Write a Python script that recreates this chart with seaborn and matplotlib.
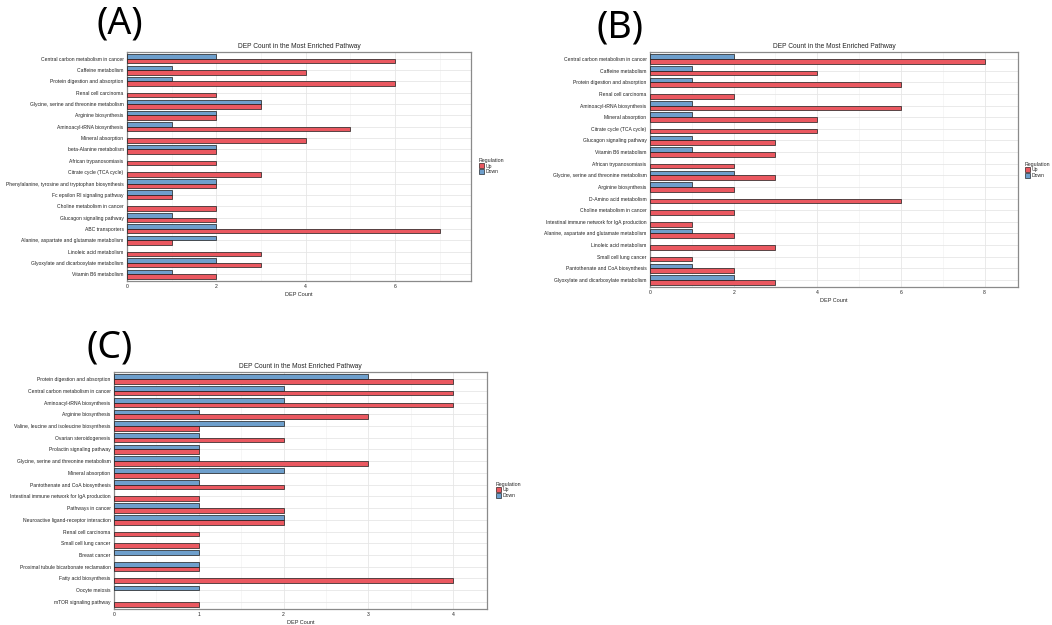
import matplotlib
matplotlib.use("Agg")
import matplotlib.pyplot as plt
import seaborn as sns
import pandas as pd
import numpy as np
from matplotlib.patches import Patch

sns.set_style("white")
plt.rcParams['font.family'] = ['Liberation Sans', 'DejaVu Sans']

# ---- data (None = no bar) ----
pathways_a = [
    "Central carbon metabolism in cancer", "Caffeine metabolism",
    "Protein digestion and absorption", "Renal cell carcinoma",
    "Glycine, serine and threonine metabolism", "Arginine biosynthesis",
    "Aminoacyl-tRNA biosynthesis", "Mineral absorption",
    "beta-Alanine metabolism", "African trypanosomiasis",
    "Citrate cycle (TCA cycle)", "Phenylalanine, tyrosine and tryptophan biosynthesis",
    "Fc epsilon RI signaling pathway", "Choline metabolism in cancer",
    "Glucagon signaling pathway", "ABC transporters",
    "Alanine, aspartate and glutamate metabolism", "Linoleic acid metabolism",
    "Glyoxylate and dicarboxylate metabolism", "Vitamin B6 metabolism",
]
up_a = [6, 4, 6, 2, 3, 2, 5, 4, 2, 2, 3, 2, 1, 2, 2, 7, 1, 3, 3, 2]
down_a = [2, 1, 1, None, 3, 2, 1, None, 2, None, None, 2, 1, None, 1, 2, 2, None, 2, 1]

pathways_b = [
    "Central carbon metabolism in cancer", "Caffeine metabolism",
    "Protein digestion and absorption", "Renal cell carcinoma",
    "Aminoacyl-tRNA biosynthesis", "Mineral absorption",
    "Citrate cycle (TCA cycle)", "Glucagon signaling pathway",
    "Vitamin B6 metabolism", "African trypanosomiasis",
    "Glycine, serine and threonine metabolism", "Arginine biosynthesis",
    "D-Amino acid metabolism", "Choline metabolism in cancer",
    "Intestinal immune network for IgA production",
    "Alanine, aspartate and glutamate metabolism", "Linoleic acid metabolism",
    "Small cell lung cancer", "Pantothenate and CoA biosynthesis",
    "Glyoxylate and dicarboxylate metabolism",
]
up_b = [8, 4, 6, 2, 6, 4, 4, 3, 3, 2, 3, 2, 6, 2, 1, 2, 3, 1, 2, 3]
down_b = [2, 1, 1, None, 1, 1, None, 1, 1, None, 2, 1, None, None, None, 1, None, None, 1, 2]

pathways_c = [
    "Protein digestion and absorption", "Central carbon metabolism in cancer",
    "Aminoacyl-tRNA biosynthesis", "Arginine biosynthesis",
    "Valine, leucine and isoleucine biosynthesis", "Ovarian steroidogenesis",
    "Prolactin signaling pathway", "Glycine, serine and threonine metabolism",
    "Mineral absorption", "Pantothenate and CoA biosynthesis",
    "Intestinal immune network for IgA production", "Pathways in cancer",
    "Neuroactive ligand-receptor interaction", "Renal cell carcinoma",
    "Small cell lung cancer", "Breast cancer",
    "Proximal tubule bicarbonate reclamation", "Fatty acid biosynthesis",
    "Oocyte meiosis", "mTOR signaling pathway",
]
up_c = [4, 4, 4, 3, 1, 2, 1, 3, 1, 2, 1, 2, 2, 1, 1, None, 1, 4, None, 1]
down_c = [3, 2, 2, 1, 2, 1, 1, 1, 2, 1, None, 1, 2, None, None, 1, 1, None, 1, None]

RED = "#EA5860"
BLUE = "#6E9FCC"
W, H = 1052, 625


def make_df(pathways, up, down):
    rows = []
    for p, u, d in zip(pathways, up, down):
        if u is not None:
            rows.append((p, "Up", u))
        if d is not None:
            rows.append((p, "Down", d))
    return pd.DataFrame(rows, columns=["Pathway", "Regulation", "Count"])


def add_ax(fig, x0, y0, x1, y1):
    return fig.add_axes([x0 / W, 1 - y1 / H, (x1 - x0) / W, (y1 - y0) / H])


def draw_panel(fig, box, pathways, up, down, step, legend_xy):
    ax = add_ax(fig, *box)
    df = make_df(pathways, up, down)
    sns.barplot(data=df, x="Count", y="Pathway", hue="Regulation",
                order=pathways, hue_order=["Down", "Up"],
                palette={"Up": RED, "Down": BLUE}, saturation=1,
                width=0.8, errorbar=None, edgecolor="#1a1a1a", linewidth=0.5,
                orient="h", legend=False, ax=ax, zorder=3)
    xmax = max(v for v in up + down if v is not None) * 1.1
    ax.set_xlim(0, xmax)
    ax.set_ylim(len(pathways) - 0.4, -0.6)
    ax.set_xticks(np.arange(0, xmax, step))
    ax.set_xticks(np.arange(step / 2, xmax, step), minor=True)
    ax.grid(True, which="major", color="#E6E6E6", linewidth=0.6, zorder=0)
    ax.grid(True, which="minor", axis="x", color="#EFEFEF", linewidth=0.4, zorder=0)
    ax.set_axisbelow(True)
    for s in ax.spines.values():
        s.set_color("#8A8A8A")
        s.set_linewidth(0.9)
    ax.tick_params(axis="both", which="major", length=1.5, width=0.4,
                   color="#444444", labelsize=3.6, pad=1, labelcolor="#222222")
    ax.tick_params(axis="x", which="minor", length=0)
    ax.set_ylabel("")
    ax.set_xlabel("DEP Count", fontsize=4.0, labelpad=1.5)
    ax.set_title("DEP Count in the Most Enriched Pathway", fontsize=4.8, pad=3)
    handles = [Patch(facecolor=RED, edgecolor="black", linewidth=0.4, label="Up"),
               Patch(facecolor=BLUE, edgecolor="black", linewidth=0.4, label="Down")]
    fig.legend(handles=handles, title="Regulation", loc="center left",
               bbox_to_anchor=(legend_xy[0] / W, 1 - legend_xy[1] / H),
               frameon=False, fontsize=3.6, title_fontsize=3.8,
               handlelength=1.0, handleheight=1.2, handletextpad=0.4,
               labelspacing=0.0, borderpad=0, alignment="left")
    return ax


fig = plt.figure(figsize=(W / 100, H / 100), dpi=100)

draw_panel(fig, (127, 52, 471, 281), pathways_a, up_a, down_a, 2, (476, 166))
draw_panel(fig, (650, 52, 1018, 287), pathways_b, up_b, down_b, 2, (1022, 170))
draw_panel(fig, (114, 372, 487, 609), pathways_c, up_c, down_c, 1, (493, 490))

label_font = dict(fontsize=27, color="black", family=["Noto Sans", "DejaVu Sans"])
fig.text(96 / W, 1 - 33 / H, "(A)", ha="left", va="baseline", **label_font)
fig.text(597 / W, 1 - 38 / H, "(B)", ha="left", va="baseline", **label_font)
fig.text(86 / W, 1 - 358 / H, "(C)", ha="left", va="baseline", **label_font)

fig.savefig("out.png", dpi=100, facecolor="white")
